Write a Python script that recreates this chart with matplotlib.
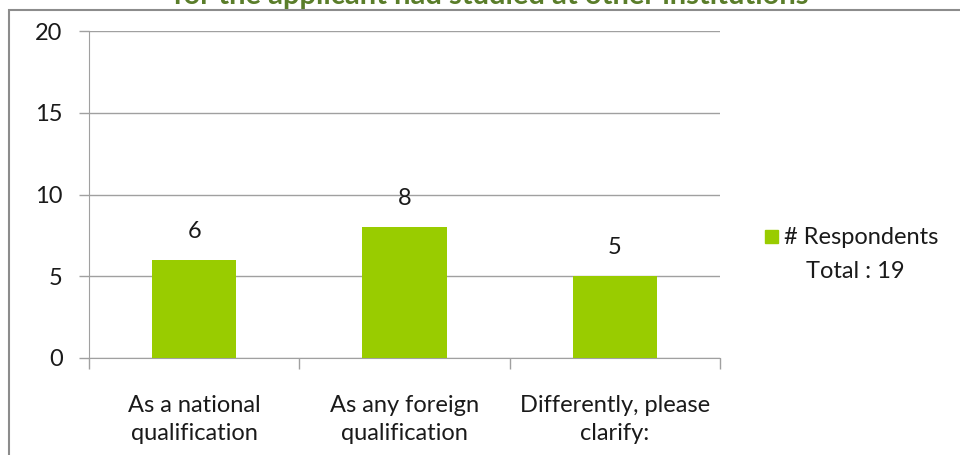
import matplotlib.pyplot as plt
from matplotlib.patches import Rectangle

# data
categories = ["As a national\nqualification", "As any foreign\nqualification",
              "Differently, please\nclarify:"]
respondents = [6, 8, 5]
total = 19
series_name = "# Respondents"
title = "for the applicant had studied at other institutions"

bar_color = "#99CC00"
grid_color = "#A0A0A0"
text_color = "#1A1A1A"

plt.rcParams['font.family'] = ['Lato', 'DejaVu Sans']

fig = plt.figure(figsize=(9.6, 4.55), dpi=100)

# outer chart frame (runs off the canvas on the right and bottom)
frame = Rectangle((9 / 960, -0.1), 2.0, 1 - 10 / 455 + 0.1, transform=fig.transFigure,
                  fill=False, edgecolor="#8C8C8C", linewidth=1.5, zorder=0)
fig.patches.append(frame)

fig.text(491 / 960, 1 - 4 / 455, title, ha="center", va="baseline",
         fontsize=21, fontweight="bold", color="#5A7D2A")

ax = fig.add_axes([89 / 960, 1 - 358 / 455, (720 - 89) / 960, (358 - 31) / 455])

x = list(range(len(categories)))
ax.bar(x, respondents, width=0.4, color=bar_color, zorder=3)

for xi, v in zip(x, respondents):
    ax.text(xi, v + 1.1, str(v), ha="center", va="bottom", fontsize=17,
            color=text_color)

ax.set_xlim(-0.5, len(categories) - 0.5)
ax.set_ylim(0, 20)
ax.set_yticks([0, 5, 10, 15, 20])
ax.yaxis.grid(True, color=grid_color, linewidth=1)
ax.set_axisbelow(True)

# category labels centred, ticks on the boundaries
ax.set_xticks(x)
ax.set_xticklabels(categories, fontsize=17, color=text_color, linespacing=1.4)
ax.tick_params(axis="x", length=0, pad=27)
ax.set_xticks([i - 0.5 for i in range(len(categories) + 1)], minor=True)
ax.tick_params(axis="x", which="minor", length=8, color=grid_color, width=1)
ax.tick_params(axis="y", length=7, color=grid_color, width=1, labelsize=17,
               labelcolor=text_color, pad=12)

for side in ["top", "right"]:
    ax.spines[side].set_visible(False)
ax.spines["left"].set_color(grid_color)
ax.spines["bottom"].set_color(grid_color)

# legend: one swatch, the total written underneath
fig.patches.append(Rectangle((765 / 960, 1 - 243 / 455), 13 / 960, 13 / 455,
                             transform=fig.transFigure, color=bar_color))
fig.text(784 / 960, 1 - 237 / 455, series_name, ha="left", va="center",
         fontsize=17, color=text_color)
fig.text(855 / 960, 1 - 271 / 455, f"Total : {total}", ha="center", va="center",
         fontsize=17, color=text_color)

fig.savefig("out.png", dpi=100)
